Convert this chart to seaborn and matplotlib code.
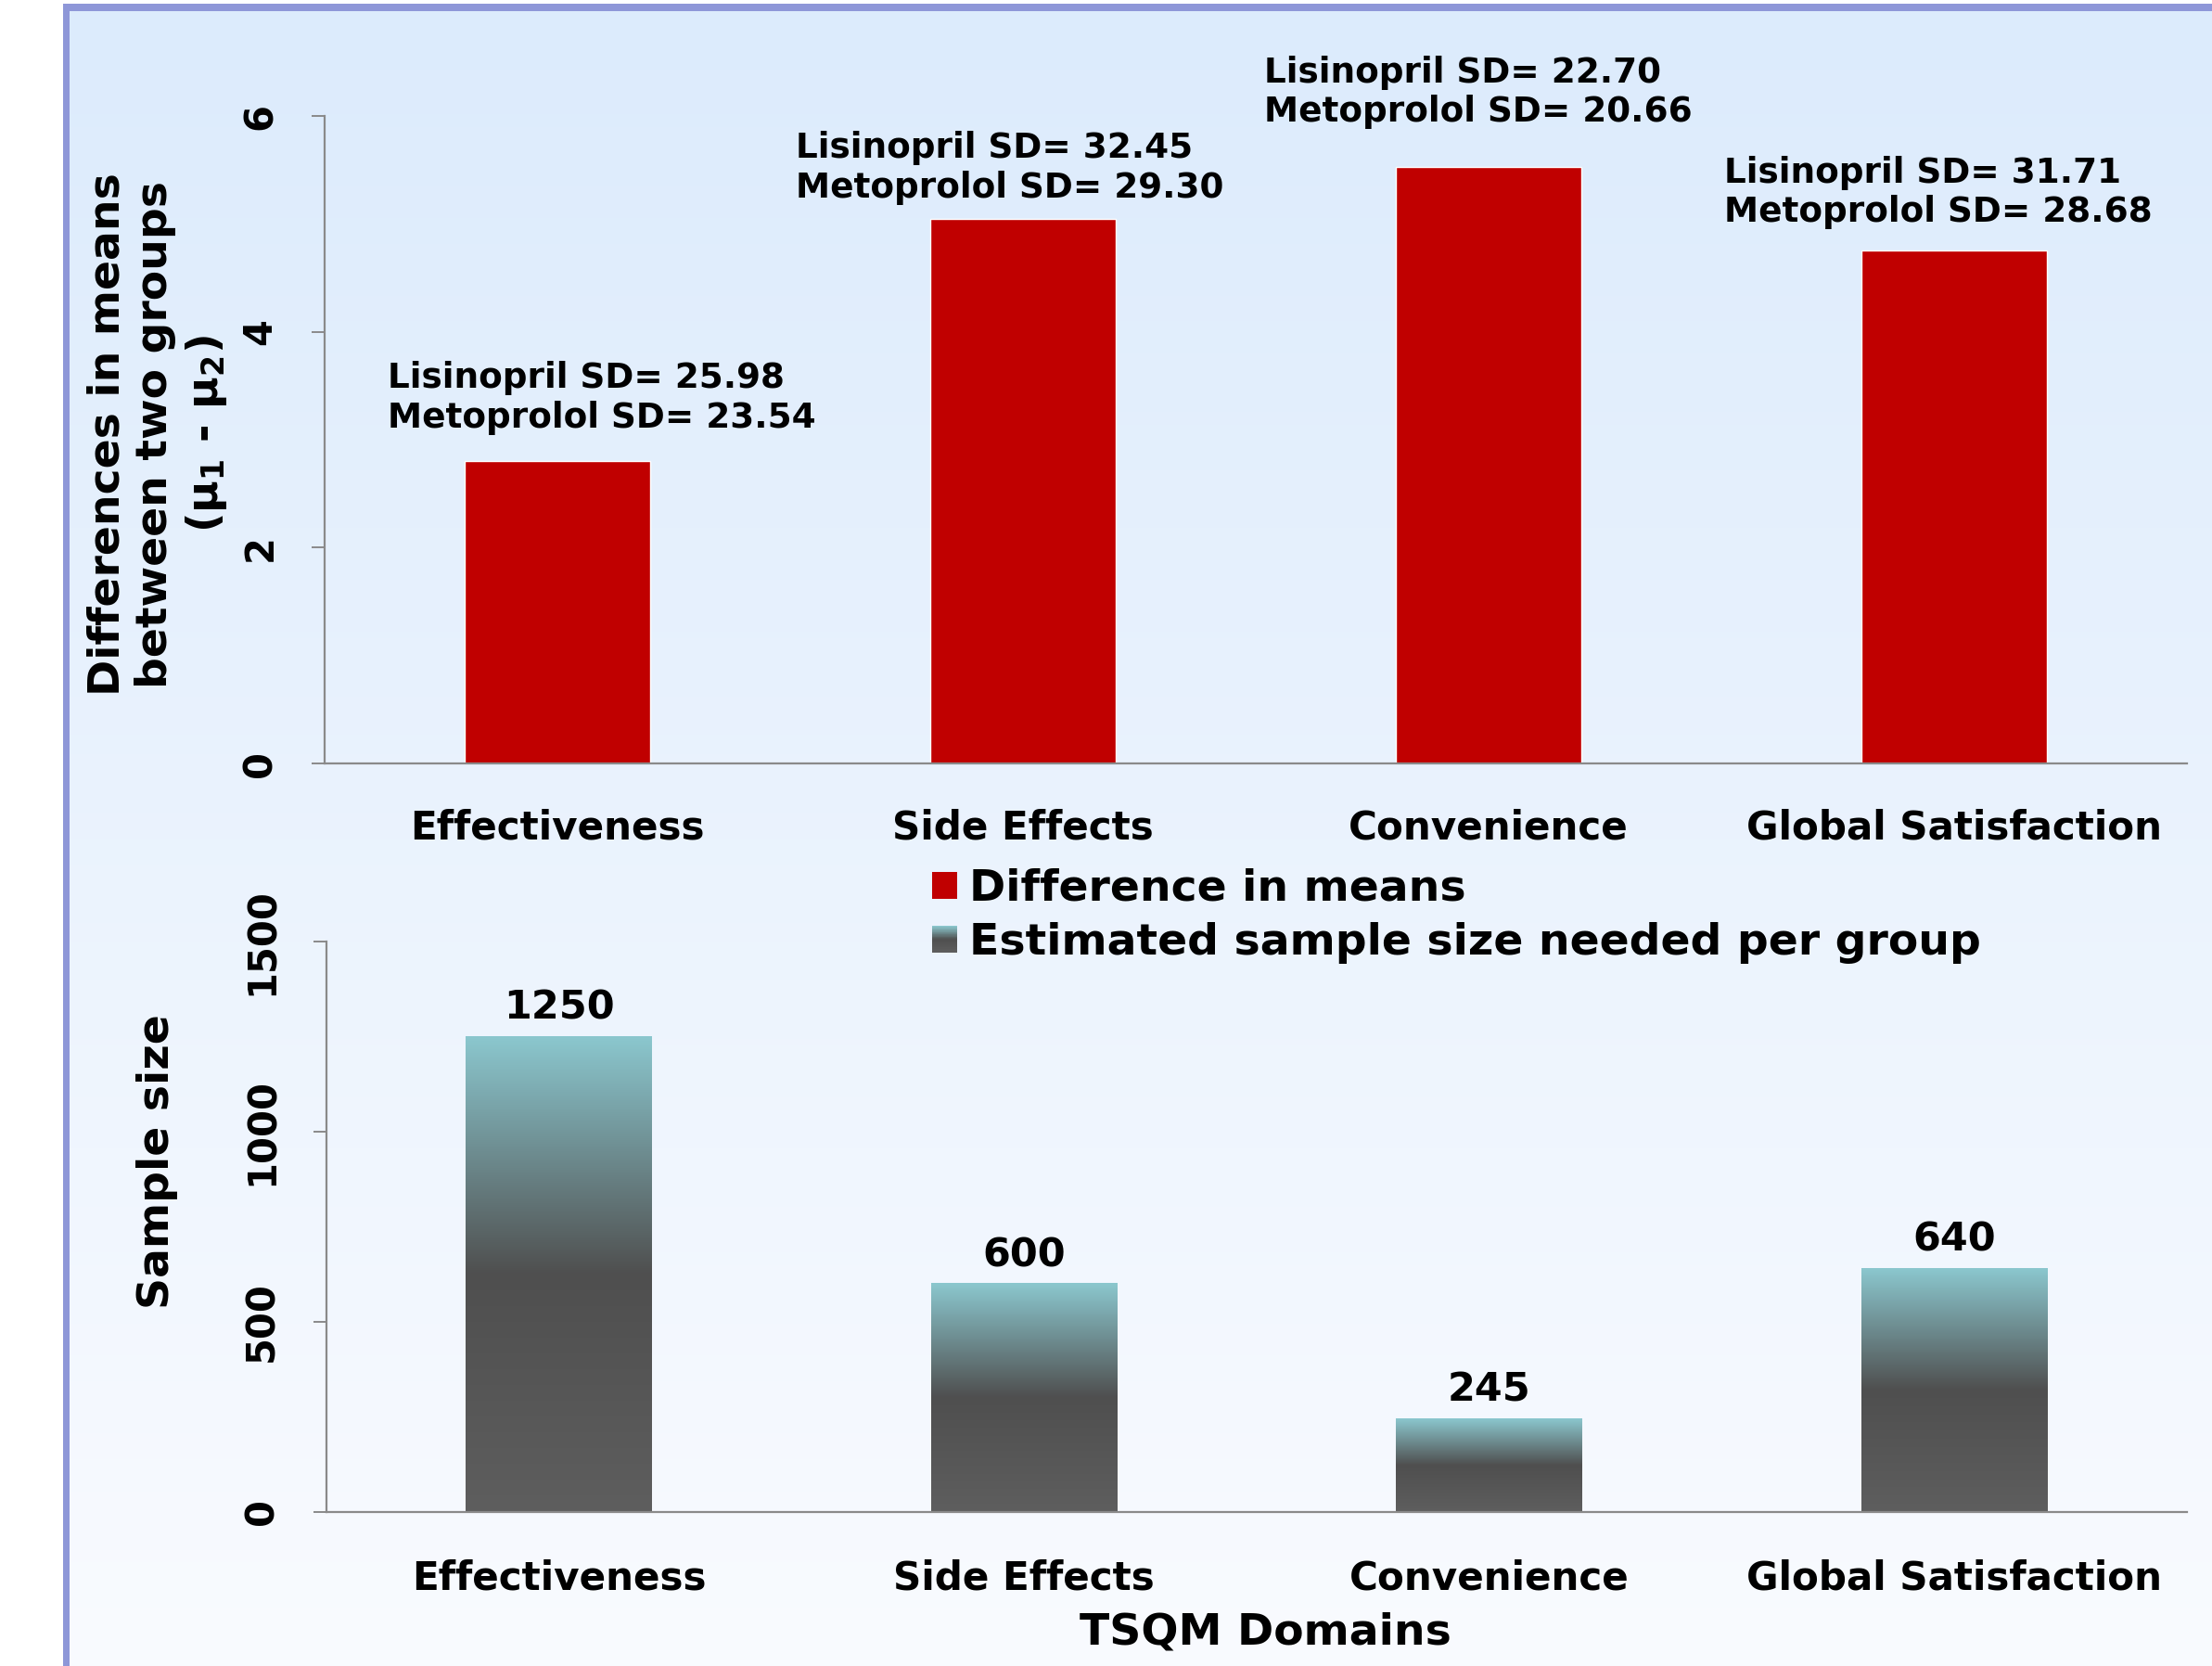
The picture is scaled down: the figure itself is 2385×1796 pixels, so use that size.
import numpy as np
import seaborn as sns
import matplotlib.pyplot as plt
from matplotlib.patches import Rectangle
from matplotlib.legend_handler import HandlerBase
from matplotlib.colors import LinearSegmentedColormap

domains = ["Effectiveness", "Side Effects", "Convenience", "Global Satisfaction"]
mean_diff = [2.80, 5.05, 5.53, 4.75]
sample_size = [1250, 600, 245, 640]
lisinopril_sd = ["25.98", "32.45", "22.70", "31.71"]
metoprolol_sd = ["23.54", "29.30", "20.66", "28.68"]

# where the SD notes sit (x offset from bar centre, y in data units)
note_dx = [-0.364, -0.488, -0.482, -0.494]
note_y = [3.39, 5.52, 6.22, 5.29]

sns.set_style("white")
plt.rcParams['font.family'] = ['DejaVu Sans']
plt.rcParams['font.weight'] = 'bold'
plt.rcParams['axes.labelweight'] = 'bold'
plt.rcParams['mathtext.default'] = 'regular'
plt.rcParams['text.color'] = 'black'
plt.rcParams['xtick.labelcolor'] = 'black'
plt.rcParams['ytick.labelcolor'] = 'black'

red = "#C00000"
axis_grey = "#8a8a8a"
border = "#8E97D8"
bar_cmap = LinearSegmentedColormap.from_list(
    "bar", [(0, "#5e5e5e"), (0.5, "#4f4f4f"), (1, "#8bc7ce")])

W, H = 2385, 1796
fig = plt.figure(figsize=(W / 100, H / 100), dpi=100)

# background panel with gradient and frame
bg = fig.add_axes([0, 0, 1, 1], zorder=-10)
bg.set_axis_off()
t = np.linspace(0, 1, 256)[:, None, None]
top_c = np.array([220, 235, 252]) / 255
bot_c = np.array([249, 251, 255]) / 255
bg_img = top_c * (1 - t) + bot_c * t
bg.imshow(bg_img, extent=[75, W, H, 12], aspect='auto')
bg.add_patch(Rectangle((68, 4), 7, H - 4, color=border, lw=0))
bg.add_patch(Rectangle((68, 4), W - 68, 8, color=border, lw=0))
bg.set_xlim(0, W)
bg.set_ylim(H, 0)

ax1 = fig.add_axes([350 / W, 1 - 823 / H, (2358 - 350) / W, (823 - 125) / H])
ax2 = fig.add_axes([352 / W, 1 - 1630 / H, (2358 - 352) / W, (1630 - 1015) / H])

sns.barplot(x=domains, y=mean_diff, color=red, saturation=1, width=0.4, ax=ax1)
sns.barplot(x=domains, y=sample_size, color="#5a5a5a", saturation=1, width=0.4, ax=ax2)

grad = np.linspace(0, 1, 256)[:, None]
for p in ax2.patches:
    x0, w, h = p.get_x(), p.get_width(), p.get_height()
    ax2.imshow(grad, extent=[x0, x0 + w, 0, h], origin='lower', aspect='auto',
               cmap=bar_cmap, vmin=0, vmax=1, zorder=2)
    p.set_facecolor('none')
    p.set_edgecolor('none')

ax2.bar_label(ax2.containers[0], labels=[str(v) for v in sample_size],
              padding=7, fontsize=31, fontweight='bold', color='black')

for i in range(len(domains)):
    ax1.text(i + note_dx[i], note_y[i],
             f"Lisinopril SD= {lisinopril_sd[i]}\nMetoprolol SD= {metoprolol_sd[i]}",
             ha='left', va='center', fontsize=26.9, clip_on=False)

for ax, ymax, yt, xpad in [(ax1, 6, [0, 2, 4, 6], 35), (ax2, 1500, [0, 500, 1000, 1500], 36)]:
    ax.set_facecolor('none')
    ax.set_xlim(-0.5, 3.5)
    ax.set_ylim(0, ymax)
    ax.set_yticks(yt)
    ax.set_xticks(range(4))
    ax.set_xticklabels(domains)
    ax.set_xticks([-0.5, 0.5, 1.5, 2.5, 3.5], minor=True)
    ax.set_xlabel("")
    ax.set_ylabel("")
    sns.despine(ax=ax)
    for s in ["left", "bottom"]:
        ax.spines[s].set_color(axis_grey)
        ax.spines[s].set_linewidth(1.6)
    ax.tick_params(axis='x', which='major', length=0, pad=xpad, labelsize=30.3)
    ax.tick_params(axis='x', which='minor', length=10, width=1.4, color=axis_grey, direction='out')
    ax.tick_params(axis='y', length=10, width=1.4, color=axis_grey, direction='out',
                   pad=25, labelsize=30, left=True)
    plt.setp(ax.get_yticklabels(), rotation=90, va='center')

fig.text(170 / W, 1 - 468 / H, "Differences in means\nbetween two groups\n(μ$_1$ - μ$_2$)",
         rotation=90, ha='center', va='center', fontsize=34, linespacing=1.2,
         multialignment='center')
fig.text(169 / W, 1 - 1252 / H, "Sample size", rotation=90, ha='center', va='center', fontsize=34)
fig.text(1364 / W, 1 - 1760 / H, "TSQM Domains", ha='center', va='center', fontsize=34)


class GradientHandler(HandlerBase):
    def create_artists(self, legend, orig_handle, xdescent, ydescent, width, height, fontsize, trans):
        n = 40
        arts = []
        for k in range(n):
            r = Rectangle((-xdescent, -ydescent + height * k / n), width, height / n * 1.1,
                          facecolor=bar_cmap(k / (n - 1)), edgecolor='none', transform=trans)
            arts.append(r)
        return arts


h_red = Rectangle((0, 0), 1, 1, facecolor=red, edgecolor='none')
h_grad = Rectangle((0, 0), 1, 1, facecolor="#5a5a5a", edgecolor='none')
fig.legend([h_red, h_grad], ["Difference in means", "Estimated sample size needed per group"],
           handler_map={h_grad: GradientHandler()},
           loc='upper left', bbox_to_anchor=(1005 / W, 1 - 936 / H), frameon=False,
           prop={'size': 34, 'weight': 'bold'}, handlelength=0.57, handleheight=0.57,
           handletextpad=0.27, labelspacing=0.28, borderpad=0, borderaxespad=0)

fig.savefig("out.png", dpi=100)
